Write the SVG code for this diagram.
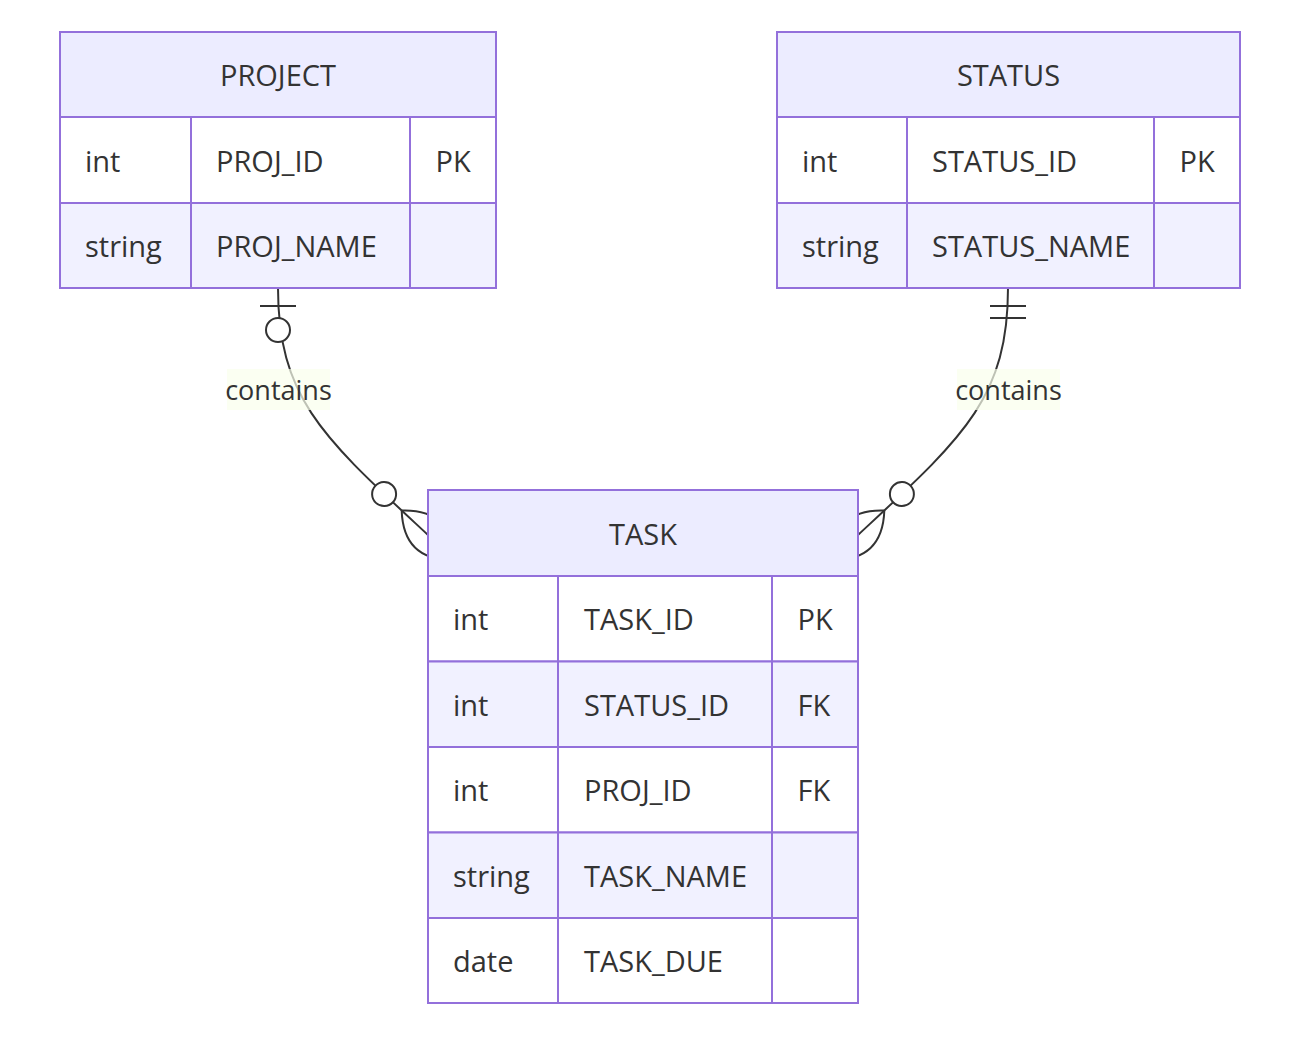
<svg xmlns="http://www.w3.org/2000/svg" width="1304" height="1042" viewBox="0 0 1304 1042">
<style>
.hdr{fill:#ECECFF;stroke:#9370DB;stroke-width:2}
.odd{fill:#ffffff;stroke:#9370DB;stroke-width:2}
.even{fill:#F1F1FF;stroke:#9370DB;stroke-width:2}
.div{stroke:#9370DB;stroke-width:2}
text{font-family:"Open Sans","Noto Sans","DejaVu Sans",sans-serif;font-size:29px;font-weight:500;fill:#333333;dominant-baseline:central}
.c{text-anchor:middle}
.edge{fill:none;stroke:#333333;stroke-width:2}
.lblbox{fill:#f9ffec;opacity:0.7}
.lbl{font-size:27px;text-anchor:middle}
.mk{fill:none;stroke:#333333;stroke-width:1}
.mkc{fill:#ffffff;stroke:#333333;stroke-width:1}
</style>
<defs>
<marker id="zeroOrOneStart" viewBox="0 0 30 36" refX="0" refY="18" markerWidth="60" markerHeight="72" markerUnits="userSpaceOnUse" orient="auto">
<circle class="mkc" cx="21" cy="18" r="6"/>
<path class="mk" d="M9,9 L9,27"/>
</marker>
<marker id="onlyOneStart" viewBox="0 0 18 18" refX="0" refY="9" markerWidth="36" markerHeight="36" markerUnits="userSpaceOnUse" orient="auto">
<path class="mk" d="M9,0 L9,18 M15,0 L15,18"/>
</marker>
<marker id="zeroOrMoreEnd" viewBox="0 0 57 36" refX="39" refY="18" markerWidth="114" markerHeight="72" markerUnits="userSpaceOnUse" orient="auto">
<circle class="mkc" cx="9" cy="18" r="6"/>
<path class="mk" d="M21,18 Q39,0 57,18 M21,18 Q39,36 57,18"/>
</marker>
</defs>
<rect width="1304" height="1042" fill="#ffffff"/>
<g id="connectors">
<path class="edge" d="M278,288 C278,400 325,439 428,535" marker-start="url(#zeroOrOneStart)" marker-end="url(#zeroOrMoreEnd)"/>
<path class="edge" d="M1008,288 C1008,400 961,439 858,535" marker-start="url(#onlyOneStart)" marker-end="url(#zeroOrMoreEnd)"/>
<rect class="lblbox" x="227" y="369" width="103" height="41"/>
<text class="lbl" x="278.5" y="389.5">contains</text>
<rect class="lblbox" x="957" y="369" width="103" height="41"/>
<text class="lbl" x="1008.5" y="389.5">contains</text>
</g>
<g id="PROJECT">
<rect class="hdr" x="60" y="32" width="436" height="85"/>
<rect class="odd" x="60" y="117" width="436" height="86"/>
<rect class="even" x="60" y="203" width="436" height="85"/>
<line class="div" x1="191" y1="117" x2="191" y2="288"/>
<line class="div" x1="410" y1="117" x2="410" y2="288"/>
<text class="c" x="278" y="74.5">PROJECT</text>
<text x="85" y="160">int</text>
<text x="216" y="160">PROJ_ID</text>
<text x="435.5" y="160">PK</text>
<text x="85" y="245.5">string</text>
<text x="216" y="245.5">PROJ_NAME</text>
</g>
<g id="STATUS">
<rect class="hdr" x="777" y="32" width="463" height="85"/>
<rect class="odd" x="777" y="117" width="463" height="86"/>
<rect class="even" x="777" y="203" width="463" height="85"/>
<line class="div" x1="907" y1="117" x2="907" y2="288"/>
<line class="div" x1="1154" y1="117" x2="1154" y2="288"/>
<text class="c" x="1008.5" y="74.5">STATUS</text>
<text x="802" y="160">int</text>
<text x="932" y="160">STATUS_ID</text>
<text x="1179.5" y="160">PK</text>
<text x="802" y="245.5">string</text>
<text x="932" y="245.5">STATUS_NAME</text>
</g>
<g id="TASK">
<rect class="hdr" x="428" y="490" width="430" height="86"/>
<rect class="odd" x="428" y="576" width="430" height="85.5"/>
<rect class="even" x="428" y="661.5" width="430" height="85.5"/>
<rect class="odd" x="428" y="747" width="430" height="85.5"/>
<rect class="even" x="428" y="832.5" width="430" height="85.5"/>
<rect class="odd" x="428" y="918" width="430" height="85"/>
<line class="div" x1="558" y1="576" x2="558" y2="1003"/>
<line class="div" x1="772" y1="576" x2="772" y2="1003"/>
<text class="c" x="643" y="533">TASK</text>
<text x="453" y="618.75">int</text>
<text x="584" y="618.75">TASK_ID</text>
<text x="797.5" y="618.75">PK</text>
<text x="453" y="704.25">int</text>
<text x="584" y="704.25">STATUS_ID</text>
<text x="797.5" y="704.25">FK</text>
<text x="453" y="789.75">int</text>
<text x="584" y="789.75">PROJ_ID</text>
<text x="797.5" y="789.75">FK</text>
<text x="453" y="875.25">string</text>
<text x="584" y="875.25">TASK_NAME</text>
<text x="453" y="960.5">date</text>
<text x="584" y="960.5">TASK_DUE</text>
</g>
</svg>
